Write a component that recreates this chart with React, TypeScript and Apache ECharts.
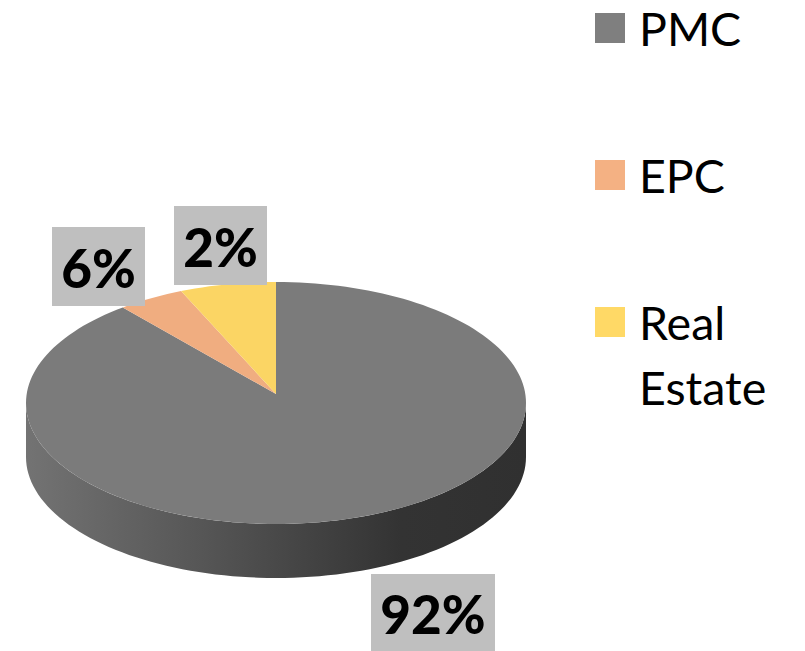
import React, { useEffect, useRef } from "react";
import * as echarts from "echarts";

const categories = ["PMC", "EPC", "Real\nEstate"];
const drawnShares = [89.5, 4.3, 6.2];
const percentLabels = ["92%", "6%", "2%"];
const sliceColors = ["#7b7b7b", "#f0ad80", "#fbd564"];
const legendColors = ["#7f7f7f", "#f4b183", "#ffd966"];

const CX = 276, CY = 403, RX = 250, RY = 121, DEPTH = 54, APEX_Y = 394;
const FONT = "Lato, Carlito, 'Open Sans', sans-serif";
const labelBoxes = [
  { x: 371, y: 574, w: 124, h: 77 },
  { x: 52, y: 227, w: 93, h: 79 },
  { x: 174, y: 206, w: 93, h: 79 },
];

const total = drawnShares.reduce((a, b) => a + b, 0);

function slicePoints(start: number, end: number) {
  const pts: number[][] = [[CX, APEX_Y]];
  const n = Math.max(4, Math.ceil((end - start) * 2));
  for (let i = 0; i <= n; i++) {
    const t = ((start + ((end - start) * i) / n) / total) * Math.PI * 2;
    pts.push([CX + RX * Math.sin(t), CY - RY * Math.cos(t)]);
  }
  return pts;
}

function wallPoints() {
  const pts: number[][] = [];
  for (let a = 0; a <= 180; a += 2) {
    const t = (a * Math.PI) / 180;
    pts.push([CX + RX * Math.cos(t), CY + RY * Math.sin(t) + DEPTH]);
  }
  for (let a = 180; a >= 0; a -= 2) {
    const t = (a * Math.PI) / 180;
    pts.push([CX + RX * Math.cos(t), CY + RY * Math.sin(t)]);
  }
  return pts;
}

export default function App() {
  const ref = useRef<HTMLDivElement>(null);
  useEffect(() => {
    if (!ref.current) return;
    const chart = echarts.init(ref.current, undefined, { renderer: "svg" });
    const series = categories.map((name, idx) => ({
      type: "custom",
      name,
      coordinateSystem: "none",
      silent: true,
      z: 2,
      itemStyle: { color: legendColors[idx] },
      data: [drawnShares[idx]],
      renderItem: (_p: any, api: any) => {
        const start = drawnShares.slice(0, idx).reduce((a, b) => a + b, 0);
        const end = start + Number(api.value(0));
        const box = labelBoxes[idx];
        const children: any[] = [];
        if (idx === 0) {
          children.push({
            type: "polygon",
            shape: { points: wallPoints() },
            style: {
              fill: new echarts.graphic.LinearGradient(0, 0, 1, 0, [
                { offset: 0, color: "#737373" },
                { offset: 0.35, color: "#565656" },
                { offset: 0.75, color: "#333333" },
                { offset: 1, color: "#303030" },
              ]),
            },
          });
        }
        children.push({
          type: "polygon",
          shape: { points: slicePoints(start, end) },
          style: { fill: sliceColors[idx] },
        });
        children.push({
          type: "rect",
          shape: { x: box.x, y: box.y, width: box.w, height: box.h },
          style: { fill: "#bfbfbf" },
        });
        children.push({
          type: "text",
          style: {
            text: percentLabels[idx],
            x: box.x + box.w / 2,
            y: box.y + box.h / 2 + 1,
            align: "center",
            verticalAlign: "middle",
            fill: "#000000",
            font: `900 53px ${FONT}`,
          },
        });
        return { type: "group", children };
      },
    }));
    chart.setOption({
      animation: false,
      backgroundColor: "#ffffff",
      legend: {
        orient: "vertical",
        left: 595,
        top: -72,
        padding: 0,
        itemGap: -53,
        itemWidth: 30,
        itemHeight: 30,
        icon: "rect",
        selectedMode: false,
        formatter: (name: string) =>
          name.includes("\n") ? `\n${name}` : `\n${name}\n`,
        textStyle: {
          fontFamily: FONT,
          fontSize: 46.5,
          lineHeight: 65,
          color: "#000000",
          padding: [0, 0, 5, 9],
        },
        data: categories,
      },
      series,
    });
    return () => chart.dispose();
  }, []);
  return (
    <div
      ref={ref}
      style={{ position: "fixed", left: 0, top: 0, width: 805, height: 651 }}
    />
  );
}
